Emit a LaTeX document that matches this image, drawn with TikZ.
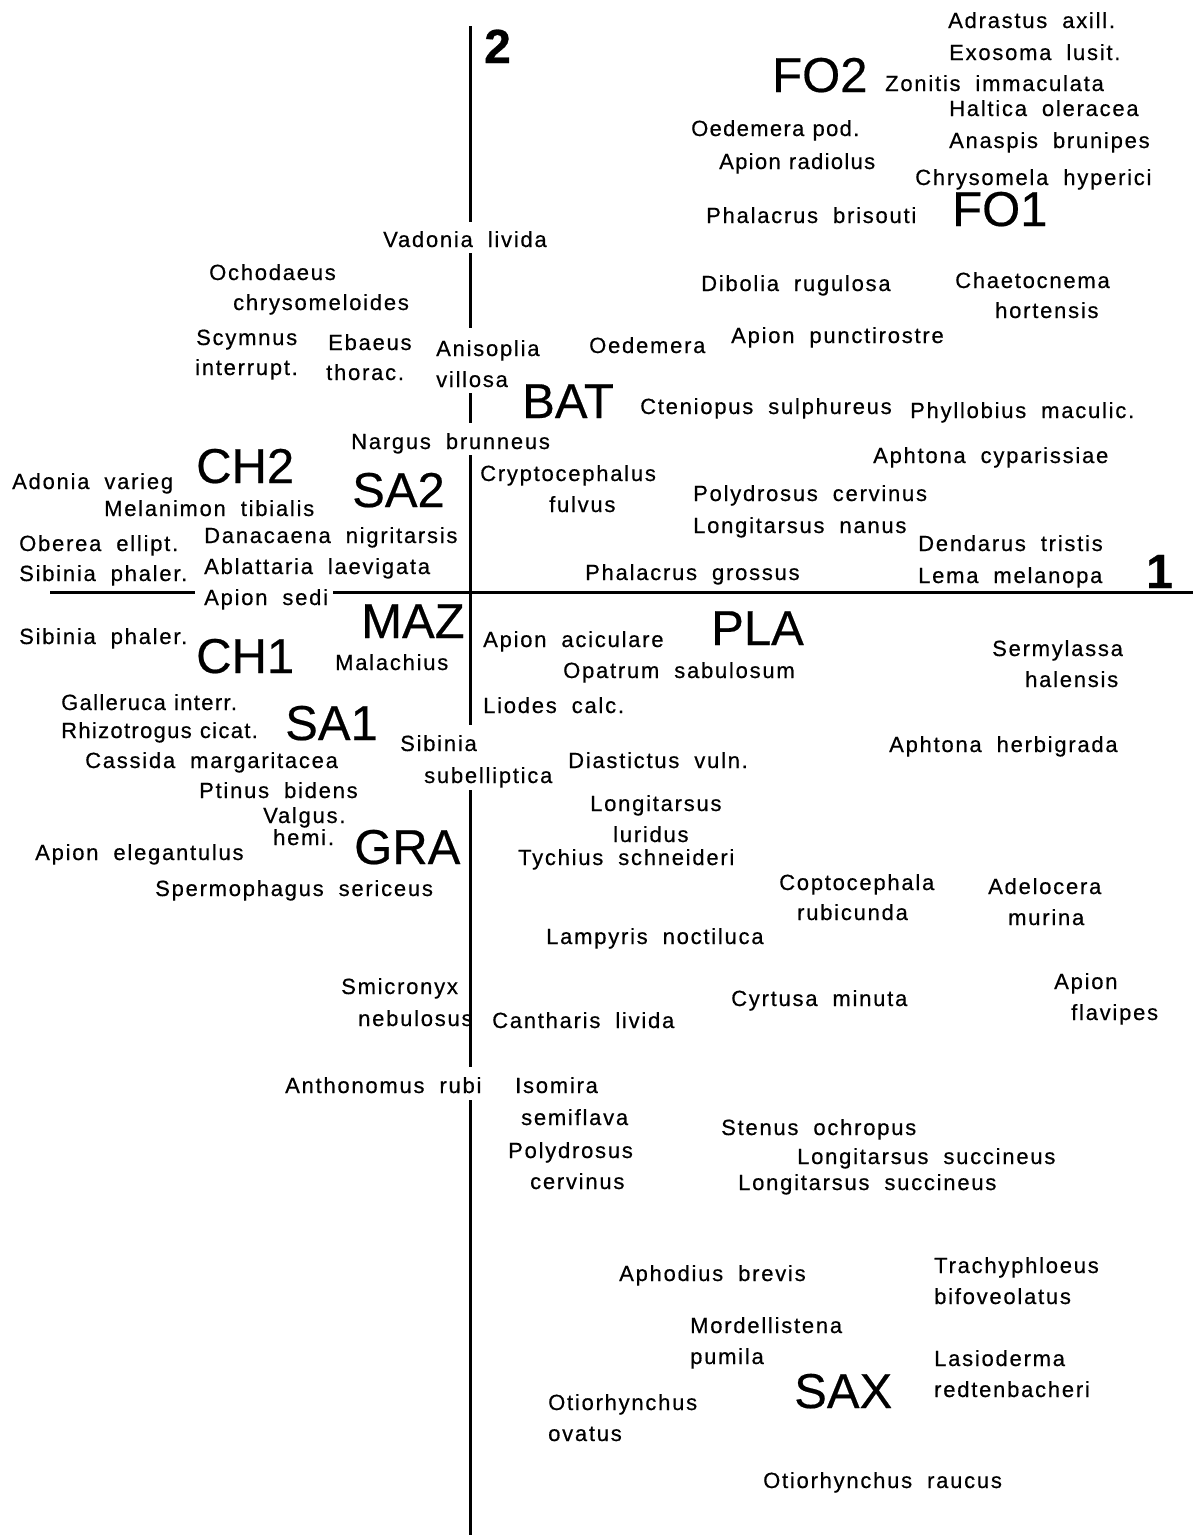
\documentclass[tikz,border=0pt]{standalone}
\usepackage{fontspec}
\newfontfamily\labfont{Liberation Sans}[LetterSpace=8,WordSpace={1.9},FakeBold=0.5]
\newfontfamily\labnfont{Liberation Sans}[LetterSpace=6,WordSpace={1.1},FakeBold=0.5]
\newfontfamily\grpfont{Liberation Sans}[FakeBold=0.4]
\newfontfamily\axfont{Liberation Sans}[FakeBold=0.6]
\tikzset{
  lab/.style={anchor=base west, inner sep=0pt, font=\labfont\fontsize{22}{24}\selectfont},
  labn/.style={anchor=base west, inner sep=0pt, font=\labnfont\fontsize{22}{24}\selectfont},
  grp/.style={anchor=base west, inner sep=0pt, font=\grpfont\fontsize{49}{52}\selectfont},
  axl/.style={anchor=base west, inner sep=0pt, font=\axfont\bfseries\fontsize{48}{50}\selectfont},
  axis/.style={line width=3pt, black}
}
\begin{document}
\begin{tikzpicture}[x=1pt,y=-1pt]
\useasboundingbox (0,0) rectangle (1193,1535);
% axes
\coordinate (v0) at (470,26);  \coordinate (v1) at (470,222);
\coordinate (v2) at (470,253); \coordinate (v3) at (470,328);
\coordinate (v4) at (470,393); \coordinate (v5) at (470,423);
\coordinate (v6) at (470,455); \coordinate (v7) at (470,725);
\coordinate (v8) at (470,790); \coordinate (v9) at (470,1067);
\coordinate (v10) at (470,1100); \coordinate (v11) at (470,1535);
\coordinate (h0) at (50,592); \coordinate (h1) at (195,592);
\coordinate (h2) at (333,592); \coordinate (h3) at (1193,592);
\draw[axis] (v0)--(v1) (v2)--(v3) (v4)--(v5) (v6)--(v7) (v8)--(v9) (v10)--(v11);
\draw[axis] (h0)--(h1) (h2)--(h3);
% axis labels
\node[axl] (ax2) at (484,63) {2};
\node[axl] (ax1) at (1146,588) {1};
% group labels
\node[grp] (FOt) at (772,92) {FO2};
\node[grp] (FOo) at (952,226) {FO1};
\node[grp] (BAT) at (522,418) {BAT};
\node[grp] (CHt) at (196,483) {CH2};
\node[grp] (SAt) at (352,507) {SA2};
\node[grp] (MAZ) at (361,638) {MAZ};
\node[grp] (CHo) at (196,673) {CH1};
\node[grp] (PLA) at (711,645) {PLA};
\node[grp] (SAo) at (285,740) {SA1};
\node[grp] (GRA) at (354,864) {GRA};
\node[grp] (SAX) at (794,1408) {SAX};
% species
\node[lab] (s1) at (948,28) {Adrastus axill.};
\node[lab] (s2) at (949,60) {Exosoma lusit.};
\node[lab] (s3) at (885,91) {Zonitis immaculata};
\node[lab] (s4) at (949,116) {Haltica oleracea};
\node[labn] (s5) at (691,136) {Oedemera pod.};
\node[lab] (s6) at (949,148) {Anaspis brunipes};
\node[labn] (s7) at (719,169) {Apion radiolus};
\node[lab] (s8) at (915,185) {Chrysomela hyperici};
\node[lab] (s9) at (706,223) {Phalacrus brisouti};
\node[lab] (s10) at (383,247) {Vadonia livida};
\node[lab] (s11) at (209,280) {Ochodaeus};
\node[lab] (s12) at (233,310) {chrysomeloides};
\node[lab] (s13) at (701,291) {Dibolia rugulosa};
\node[lab] (s14) at (955,288) {Chaetocnema};
\node[lab] (s15) at (995,318) {hortensis};
\node[lab] (s16) at (196,345) {Scymnus};
\node[lab] (s17) at (195,375) {interrupt.};
\node[lab] (s18) at (328,350) {Ebaeus};
\node[lab] (s19) at (326,380) {thorac.};
\node[lab] (s20) at (436,356) {Anisoplia};
\node[lab] (s21) at (436,387) {villosa};
\node[lab] (s22) at (589,353) {Oedemera};
\node[lab] (s23) at (731,343) {Apion punctirostre};
\node[lab] (s24) at (640,414) {Cteniopus sulphureus};
\node[lab] (s25) at (910,418) {Phyllobius maculic.};
\node[lab] (s26) at (351,449) {Nargus brunneus};
\node[lab] (s27) at (873,463) {Aphtona cyparissiae};
\node[lab] (s28) at (12,489) {Adonia varieg};
\node[lab] (s29) at (480,481) {Cryptocephalus};
\node[lab] (s30) at (549,512) {fulvus};
\node[lab] (s31) at (104,516) {Melanimon tibialis};
\node[lab] (s32) at (693,501) {Polydrosus cervinus};
\node[lab] (s33) at (693,533) {Longitarsus nanus};
\node[lab] (s34) at (204,543) {Danacaena nigritarsis};
\node[lab] (s35) at (19,551) {Oberea ellipt.};
\node[lab] (s36) at (918,551) {Dendarus tristis};
\node[lab] (s37) at (19,581) {Sibinia phaler.};
\node[lab] (s38) at (204,574) {Ablattaria laevigata};
\node[lab] (s39) at (585,580) {Phalacrus grossus};
\node[lab] (s40) at (918,583) {Lema melanopa};
\node[lab] (s41) at (204,605) {Apion sedi};
\node[lab] (s42) at (19,644) {Sibinia phaler.};
\node[lab] (s43) at (483,647) {Apion aciculare};
\node[lab] (s44) at (335,670) {Malachius};
\node[lab] (s45) at (992,656) {Sermylassa};
\node[lab] (s46) at (1025,687) {halensis};
\node[lab] (s47) at (563,678) {Opatrum sabulosum};
\node[labn] (s48) at (61,710) {Galleruca interr.};
\node[lab] (s49) at (483,713) {Liodes calc.};
\node[labn] (s50) at (61,738) {Rhizotrogus cicat.};
\node[lab] (s51) at (85,768) {Cassida margaritacea};
\node[lab] (s52) at (400,751) {Sibinia};
\node[lab] (s53) at (424,783) {subelliptica};
\node[lab] (s54) at (568,768) {Diastictus vuln.};
\node[lab] (s55) at (889,752) {Aphtona herbigrada};
\node[lab] (s56) at (199,798) {Ptinus bidens};
\node[lab] (s57) at (590,811) {Longitarsus};
\node[lab] (s58) at (263,823) {Valgus.};
\node[lab] (s59) at (273,845) {hemi.};
\node[lab] (s60) at (613,842) {luridus};
\node[lab] (s61) at (35,860) {Apion elegantulus};
\node[lab] (s62) at (518,865) {Tychius schneideri};
\node[lab] (s63) at (155,896) {Spermophagus sericeus};
\node[lab] (s64) at (779,890) {Coptocephala};
\node[lab] (s65) at (797,920) {rubicunda};
\node[lab] (s66) at (988,894) {Adelocera};
\node[lab] (s67) at (1008,925) {murina};
\node[lab] (s68) at (546,944) {Lampyris noctiluca};
\node[lab] (s69) at (1054,989) {Apion};
\node[lab] (s70) at (1071,1020) {flavipes};
\node[lab] (s71) at (341,994) {Smicronyx};
\node[lab] (s72) at (358,1026) {nebulosus};
\node[lab] (s73) at (731,1006) {Cyrtusa minuta};
\node[lab] (s74) at (492,1028) {Cantharis livida};
\node[lab] (s75) at (285,1093) {Anthonomus rubi};
\node[lab] (s76) at (515,1093) {Isomira};
\node[lab] (s77) at (521,1125) {semiflava};
\node[lab] (s78) at (508,1158) {Polydrosus};
\node[lab] (s79) at (530,1189) {cervinus};
\node[lab] (s80) at (721,1135) {Stenus ochropus};
\node[lab] (s81) at (797,1164) {Longitarsus succineus};
\node[lab] (s82) at (738,1190) {Longitarsus succineus};
\node[lab] (s83) at (619,1281) {Aphodius brevis};
\node[lab] (s84) at (934,1273) {Trachyphloeus};
\node[lab] (s85) at (934,1304) {bifoveolatus};
\node[lab] (s86) at (690,1333) {Mordellistena};
\node[lab] (s87) at (690,1364) {pumila};
\node[lab] (s88) at (934,1366) {Lasioderma};
\node[lab] (s89) at (934,1397) {redtenbacheri};
\node[lab] (s90) at (548,1410) {Otiorhynchus};
\node[lab] (s91) at (548,1441) {ovatus};
\node[lab] (s92) at (763,1488) {Otiorhynchus raucus};
\end{tikzpicture}
\end{document}
